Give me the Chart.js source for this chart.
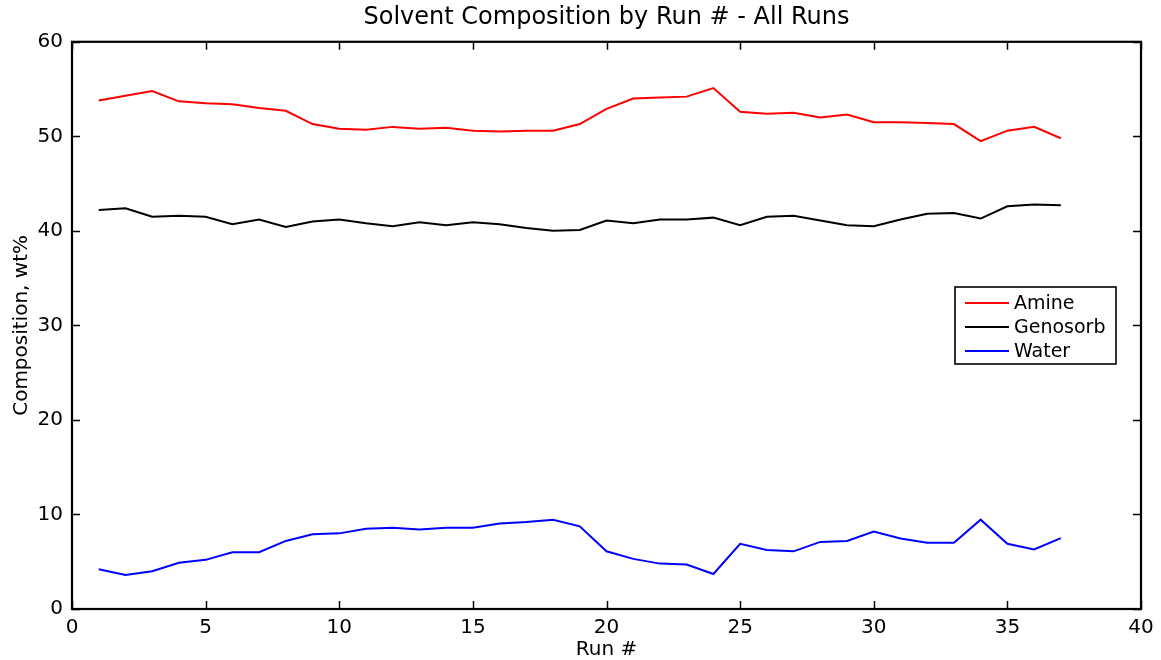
<!DOCTYPE html>
<html>
<head>
<meta charset="utf-8">
<script src="https://cdn.jsdelivr.net/npm/chart.js@4"></script>
<style>
  html, body { margin: 0; padding: 0; background: #fff; }
  #wrap { width: 1161px; height: 660px; }
</style>
</head>
<body>
<div id="wrap"><canvas id="chart" width="1161" height="660"></canvas></div>
<script>
const runs = [1, 2, 3, 4, 5, 6, 7, 8, 9, 10, 11, 12, 13, 14, 15, 16, 17, 18, 19, 20,
  21, 22, 23, 24, 25, 26, 27, 28, 29, 30, 31, 32, 33, 34, 35, 36, 37];

const amine = [53.8, 54.3, 54.8, 53.7, 53.5, 53.4, 53.0, 52.7, 51.3, 50.8,
  50.7, 51.0, 50.8, 50.9, 50.6, 50.5, 50.6, 50.6, 51.3, 52.9,
  54.0, 54.1, 54.2, 55.1, 52.6, 52.4, 52.5, 52.0, 52.3, 51.5,
  51.5, 51.4, 51.3, 49.5, 50.6, 51.0, 49.8];

const genosorb = [42.2, 42.4, 41.5, 41.6, 41.5, 40.7, 41.2, 40.4, 41.0, 41.2,
  40.8, 40.5, 40.9, 40.6, 40.9, 40.7, 40.3, 40.0, 40.1, 41.1,
  40.8, 41.2, 41.2, 41.4, 40.6, 41.5, 41.6, 41.1, 40.6, 40.5,
  41.2, 41.8, 41.9, 41.3, 42.6, 42.8, 42.7];

const water = [4.2, 3.6, 4.0, 4.9, 5.2, 6.0, 6.0, 7.2, 7.9, 8.0,
  8.5, 8.6, 8.4, 8.6, 8.6, 9.05, 9.2, 9.45, 8.75, 6.1,
  5.3, 4.8, 4.7, 3.7, 6.9, 6.25, 6.1, 7.1, 7.2, 8.2,
  7.45, 7.0, 7.0, 9.45, 6.9, 6.3, 7.5];

const seriesNames = ["Amine", "Genosorb", "Water"];
const seriesColors = ["#ff0000", "#000000", "#0000ff"];
const xTicks = [0, 5, 10, 15, 20, 25, 30, 35, 40];
const yTicks = [0, 10, 20, 30, 40, 50, 60];

const FONT = "'DejaVu Sans', Arial, sans-serif";

function toPoints(ys) {
  return runs.map((r, i) => ({ x: r, y: ys[i] }));
}

// matlab style box with inward ticks
const boxPlugin = {
  id: "box",
  afterDatasetsDraw(chart) {
    const { ctx, chartArea: a, scales } = chart;
    const len = 8;
    ctx.save();
    ctx.strokeStyle = "#000";
    ctx.lineWidth = 1.5;
    ctx.beginPath();
    xTicks.forEach(v => {
      const px = Math.round(scales.x.getPixelForValue(v)) + 0.5;
      ctx.moveTo(px, a.bottom); ctx.lineTo(px, a.bottom - len);
      ctx.moveTo(px, a.top); ctx.lineTo(px, a.top + len);
    });
    yTicks.forEach(v => {
      const py = Math.round(scales.y.getPixelForValue(v)) + 0.5;
      ctx.moveTo(a.left, py); ctx.lineTo(a.left + len, py);
      ctx.moveTo(a.right, py); ctx.lineTo(a.right - len, py);
    });
    ctx.stroke();
    ctx.lineWidth = 2.2;
    ctx.strokeRect(a.left, a.top, a.right - a.left, a.bottom - a.top);
    ctx.restore();
  }
};

// legend box inside the axes
const legendPlugin = {
  id: "innerLegend",
  afterDraw(chart) {
    const { ctx } = chart;
    const left = 955, top = 287, w = 161, h = 77;
    ctx.save();
    ctx.fillStyle = "#fff";
    ctx.fillRect(left, top, w, h);
    ctx.strokeStyle = "#000";
    ctx.lineWidth = 1.6;
    ctx.strokeRect(left, top, w, h);
    ctx.font = "19px " + FONT;
    ctx.textBaseline = "middle";
    chart.data.datasets.forEach((ds, i) => {
      const y = top + 16 + i * 24;
      ctx.strokeStyle = ds.borderColor;
      ctx.lineWidth = 2;
      ctx.beginPath();
      ctx.moveTo(left + 10, y);
      ctx.lineTo(left + 54, y);
      ctx.stroke();
      ctx.fillStyle = "#000";
      ctx.fillText(ds.label, left + 59, y + 1);
    });
    ctx.restore();
  }
};

new Chart(document.getElementById("chart"), {
  type: "line",
  data: {
    datasets: seriesNames.map((name, i) => ({
      label: name,
      data: toPoints([amine, genosorb, water][i]),
      borderColor: seriesColors[i],
      backgroundColor: seriesColors[i],
      borderWidth: 2,
      pointRadius: 0,
      tension: 0,
      fill: false
    }))
  },
  options: {
    responsive: false,
    animation: false,
    layout: { padding: { left: 0, right: 20, top: 0, bottom: 0 } },
    plugins: {
      legend: { display: false },
      tooltip: { enabled: false },
      title: {
        display: true,
        fullSize: false,
        text: "Solvent Composition by Run # - All Runs",
        color: "#000",
        font: { family: FONT, size: 24, weight: "normal", lineHeight: 1.2 },
        padding: { top: 3, bottom: 10 }
      }
    },
    scales: {
      x: {
        type: "linear",
        min: 0,
        max: 40,
        afterBuildTicks(scale) { scale.ticks = xTicks.map(v => ({ value: v })); },
        afterFit(scale) { scale.height = 51; },
        grid: { display: false, drawTicks: false },
        border: { display: false },
        ticks: { color: "#000", padding: 7, maxRotation: 0, font: { family: FONT, size: 20 } },
        title: {
          display: true,
          text: "Run #",
          color: "#000",
          font: { family: FONT, size: 20, lineHeight: 1.0 },
          padding: { top: 0, bottom: 0 }
        }
      },
      y: {
        min: 0,
        max: 60,
        afterBuildTicks(scale) { scale.ticks = yTicks.map(v => ({ value: v })); },
        afterFit(scale) { scale.width = 72; },
        grid: { display: false, drawTicks: false },
        border: { display: false },
        ticks: { color: "#000", padding: 9, font: { family: FONT, size: 20 } },
        title: {
          display: true,
          text: "Composition, wt%",
          color: "#000",
          font: { family: FONT, size: 20, lineHeight: 1.2 },
          padding: { top: 10, bottom: 0 }
        }
      }
    }
  },
  plugins: [boxPlugin, legendPlugin]
});
</script>
</body>
</html>
